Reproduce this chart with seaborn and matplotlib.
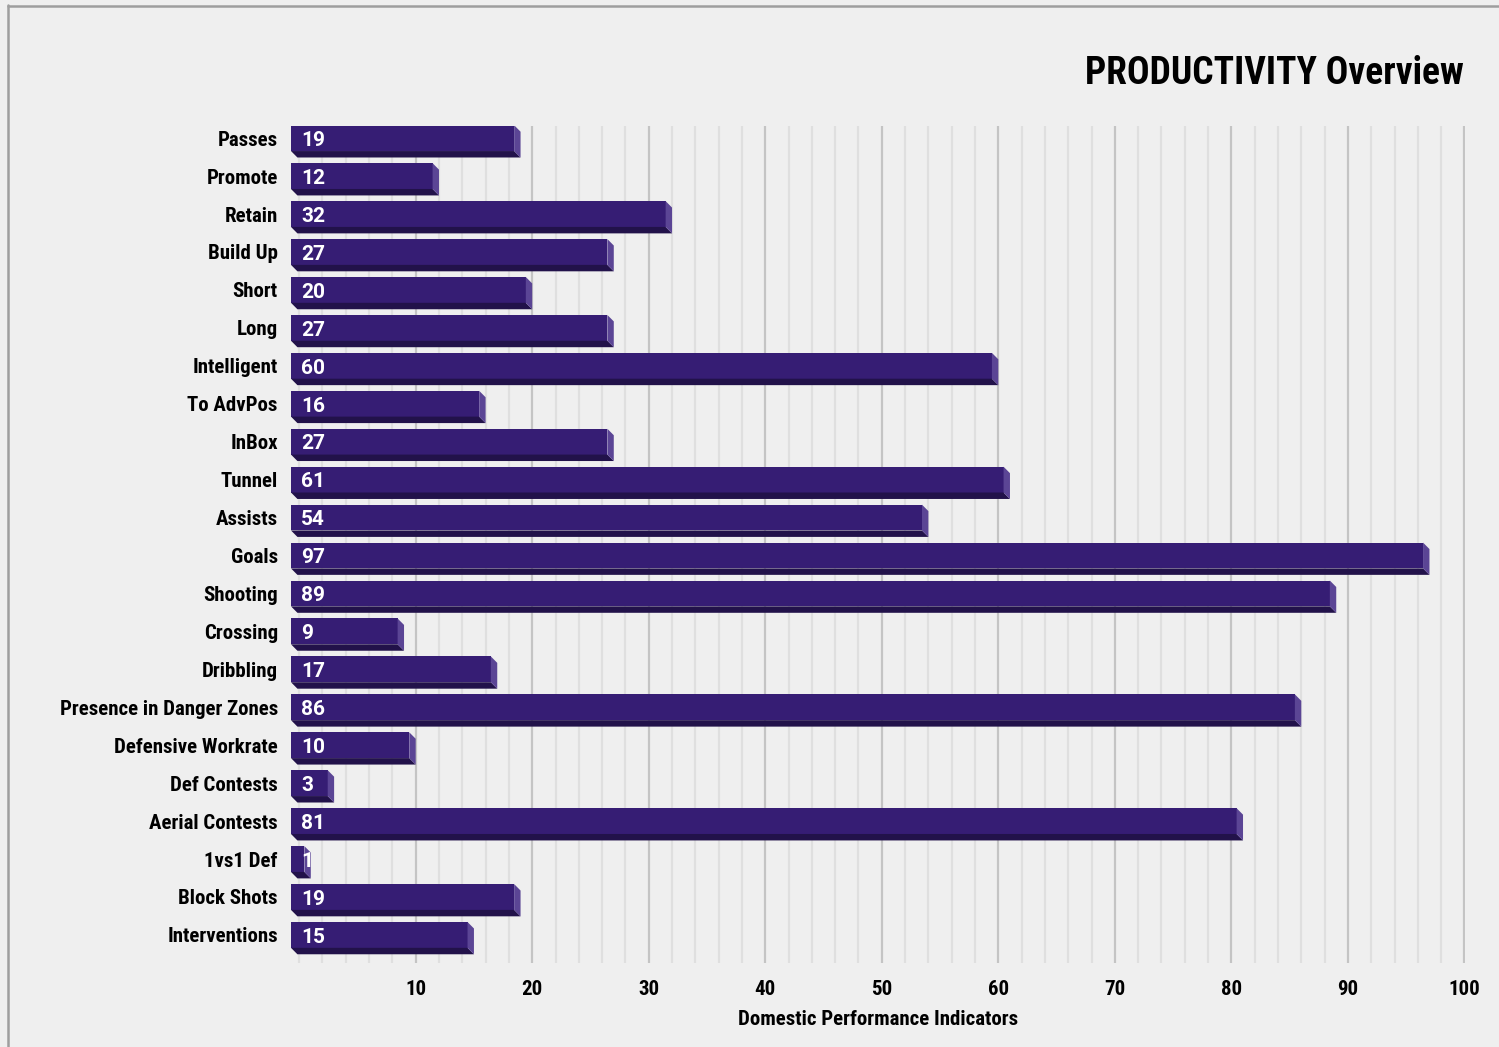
import numpy as np
import pandas as pd
import matplotlib
matplotlib.use("Agg")
import matplotlib.pyplot as plt
from matplotlib.patches import Polygon
from matplotlib.lines import Line2D
import seaborn as sns

categories = ["Passes", "Promote", "Retain", "Build Up", "Short", "Long", "Intelligent",
              "To AdvPos", "InBox", "Tunnel", "Assists", "Goals", "Shooting", "Crossing",
              "Dribbling", "Presence in Danger Zones", "Defensive Workrate", "Def Contests",
              "Aerial Contests", "1vs1 Def", "Block Shots", "Interventions"]
values = [19, 12, 32, 27, 20, 27, 60, 16, 27, 61, 54, 97, 89, 9, 17, 86, 10, 3, 81, 1, 19, 15]
major_ticks = [10, 20, 30, 40, 50, 60, 70, 80, 90, 100]
title = "PRODUCTIVITY Overview"
xlabel = "Domestic Performance Indicators"

sns.set_theme(style="white")
NARROW = ['Roboto Condensed', 'Archivo Narrow', 'Liberation Sans', 'DejaVu Sans']
plt.rcParams['font.family'] = NARROW
plt.rcParams['text.color'] = 'black'
plt.rcParams['axes.labelcolor'] = 'black'

BG = "#efefef"
FRONT = "#361d74"
BOTTOM = "#22124a"
SIDE = "#5b4595"

fig = plt.figure(figsize=(14.99, 10.47), dpi=100, facecolor=BG)
ax = fig.add_axes([291/1499, 1 - 963/1047, (1465-291)/1499, (963-126)/1047])
ax.set_facecolor(BG)

df = pd.DataFrame({"cat": categories, "val": values})
x0 = -0.7
dx = 0.55
dy = 0.17
h = 0.68

sns.barplot(data=df, x="val", y="cat", orient="h", color=FRONT, saturation=1,
            width=h, ax=ax, zorder=3)
for i, (p, v) in enumerate(zip(ax.patches, values)):
    p.set_x(x0)
    p.set_width(v - dx - x0)
    p.set_edgecolor("none")
    yb = i + h / 2
    yt = i - h / 2
    ax.add_patch(Polygon([(x0, yb), (v - dx, yb), (v, yb + dy), (x0 + dx, yb + dy)],
                         closed=True, facecolor=BOTTOM, edgecolor="none", zorder=3))
    ax.add_patch(Polygon([(v - dx, yt), (v, yt + dy), (v, yb + dy), (v - dx, yb)],
                         closed=True, facecolor=SIDE, edgecolor="none", zorder=3))
    ax.text(0.15, i + 0.06, str(v), color="white", fontsize=15, fontweight="bold",
            family=["Roboto", "DejaVu Sans"], ha="left", va="center", zorder=5)

# gridlines
for g in range(0, 101, 2):
    if g % 10 == 0 and g > 0:
        ax.axvline(g, color="#c4c4c4", lw=1.6, zorder=1)
    else:
        ax.axvline(g, color="#dfdfdf", lw=1.6, zorder=1)

ax.set_xlim(x0, 100.05)
ax.set_ylim(len(categories) - 1 + 0.74, -0.32)
ax.set_xticks(major_ticks)
ax.set_xticklabels([str(t) for t in major_ticks], fontsize=15, fontweight="bold")
ax.set_yticks(range(len(categories)))
ax.set_yticklabels(categories, fontsize=15, fontweight="bold")
ax.tick_params(axis="y", length=0, pad=9.5, colors="black")
ax.tick_params(axis="x", length=0, pad=12, colors="black")
ax.set_ylabel("")
ax.set_xlabel(xlabel, fontsize=15, fontweight="bold", labelpad=8)
for s in ax.spines.values():
    s.set_visible(False)

fig.text(1464/1499, 1 - 73/1047, title, fontsize=27, fontweight="bold",
         ha="right", va="center", color="black")

fig.add_artist(Line2D([8/1499, 8/1499], [0, 1 - 5/1047], transform=fig.transFigure,
                      color="#9e9e9e", lw=1.8))
fig.add_artist(Line2D([8/1499, 1], [1 - 6/1047, 1 - 6/1047], transform=fig.transFigure,
                      color="#9e9e9e", lw=1.8))

fig.savefig("out.png", dpi=100, facecolor=BG)
